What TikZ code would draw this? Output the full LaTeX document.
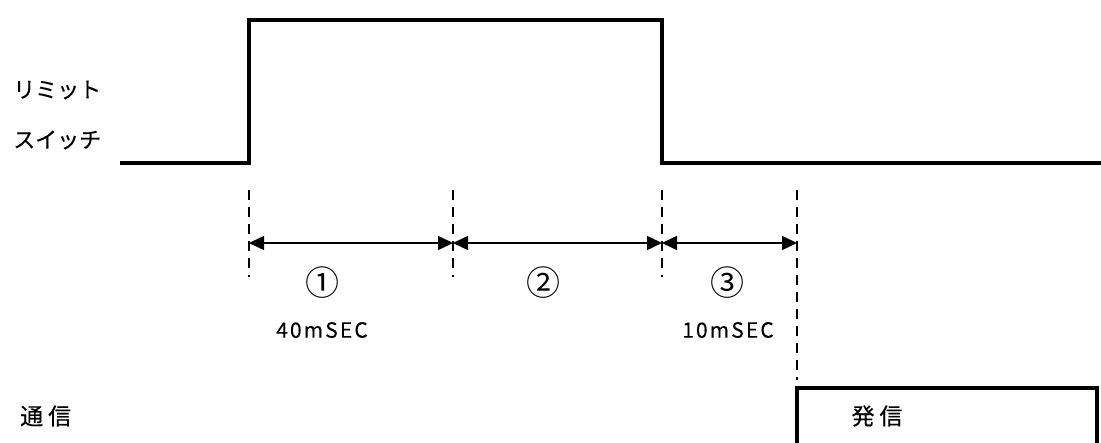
\documentclass[tikz,border=0pt]{standalone}
\usepackage{fontspec}
\newfontfamily\jp{Noto Sans CJK JP}[FakeBold=0.3]
\newfontfamily\jpn{Noto Sans CJK JP}
\newfontfamily\jpsp{Noto Sans CJK JP}[LetterSpace=10,FakeBold=0.2]
\usetikzlibrary{arrows.meta}
\begin{document}
\begin{tikzpicture}[x=1pt,y=-1pt,
  sig/.style={line width=4pt, line join=miter},
  guide/.style={line width=2pt, dash pattern=on 10pt off 7pt},
  dim/.style={line width=1.5pt, {Triangle[length=15pt,width=14pt]}-{Triangle[length=15pt,width=14pt]}},
  lbl/.style={font=\jp\fontsize{22}{26}\selectfont, inner sep=0pt},
  big/.style={font=\jp\fontsize{23}{26}\selectfont, inner sep=0pt},
  num/.style={font=\jpn\fontsize{34}{38}\selectfont, inner sep=0pt},
  tim/.style={font=\jpsp\fontsize{21}{24}\selectfont, inner sep=0pt}]
\useasboundingbox (0,0) rectangle (1101,443);
% limit switch signal
\coordinate (s0) at (120,163);
\coordinate (s1) at (249,163);
\coordinate (s2) at (249,20);
\coordinate (s3) at (662,20);
\coordinate (s4) at (662,163);
\coordinate (s5) at (1101,163);
\draw[sig] (s0) -- (s1) -- (s2) -- (s3) -- (s4) -- (s5);
\node[lbl, anchor=west] (l1) at (13,90) {リミット};
\node[lbl, anchor=west] (l2) at (13,140) {スイッチ};
% guide lines
\coordinate (g1t) at (249,190); \coordinate (g1b) at (249,277);
\coordinate (g2t) at (453,190); \coordinate (g2b) at (453,277);
\coordinate (g3t) at (662,190); \coordinate (g3b) at (662,277);
\coordinate (g4t) at (797,190); \coordinate (g4b) at (797,380);
\draw[guide] (g1t) -- (g1b);
\draw[guide] (g2t) -- (g2b);
\draw[guide] (g3t) -- (g3b);
\draw[guide] (g4t) -- (g4b);
% dimension arrows
\coordinate (a1) at (249,243);
\coordinate (a2) at (453,243);
\coordinate (a3) at (662,243);
\coordinate (a4) at (797,243);
\draw[dim] (a1) -- (a2);
\draw[dim] (a2) -- (a3);
\draw[dim] (a3) -- (a4);
\node[num] (n1) at (322,283) {①};
\node[num] (n2) at (543,283) {②};
\node[num] (n3) at (727,283) {③};
\node[tim] (t1) at (322,330) {40mSEC};
\node[tim] (t2) at (728,330) {10mSEC};
% communication
\node[big, anchor=west] (c1) at (20,416) {通\hspace{5pt}信};
\coordinate (b0) at (797,450);
\coordinate (b1) at (797,388);
\coordinate (b2) at (1097,388);
\coordinate (b3) at (1097,450);
\draw[sig] (b0) -- (b1) -- (b2) -- (b3);
\node[big] (c2) at (877,416) {発\hspace{5pt}信};
\end{tikzpicture}
\end{document}
